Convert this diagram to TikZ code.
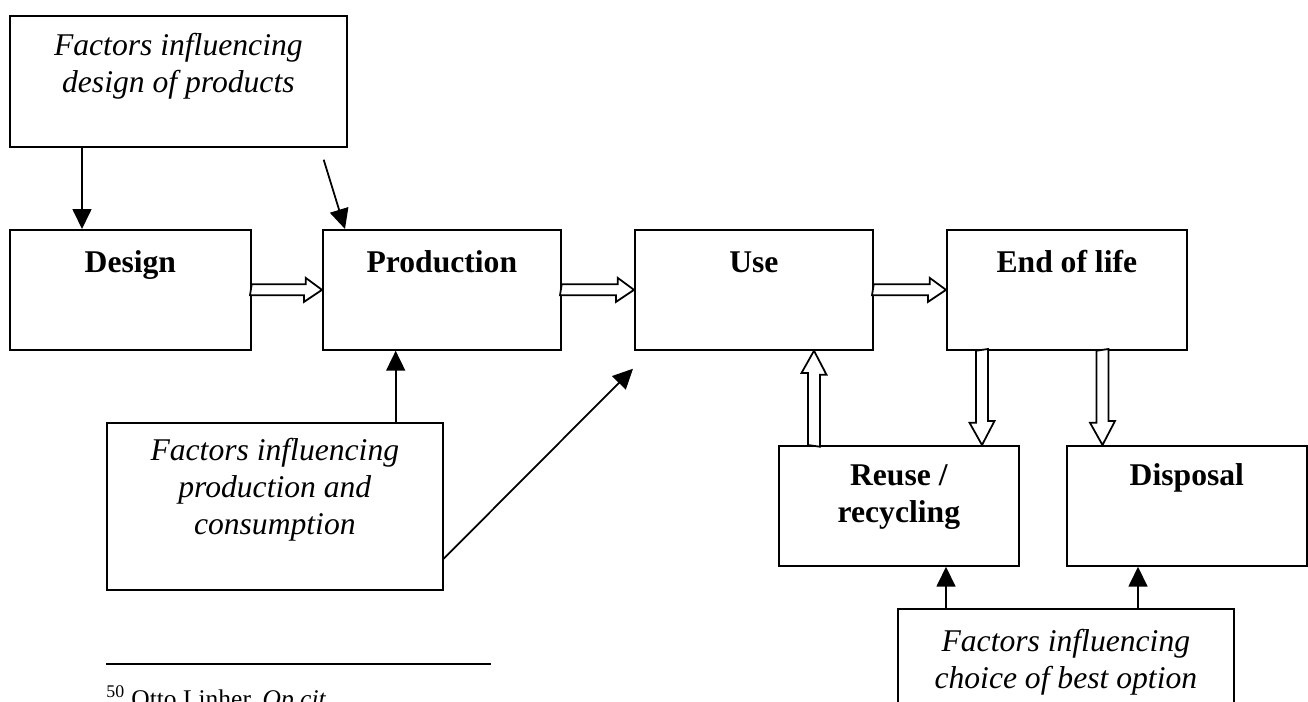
\documentclass[tikz,border=0pt]{standalone}
\usepackage{fontspec}
\setmainfont{Liberation Serif}
\usetikzlibrary{arrows.meta,calc}

% text set at the top of a box: width, height, first baseline, text
\newcommand{\boxtext}[4]{\parbox[c][#2][t]{#1}{\centering\rule{0pt}{#3}#4}}

\begin{document}
\begin{tikzpicture}[x=0.02cm, y=-0.02cm,
    stage/.style={draw, line width=1pt, inner sep=0pt, anchor=north west,
      font=\fontsize{18}{21}\selectfont\bfseries},
    factor/.style={draw, line width=1pt, inner sep=0pt, anchor=north west,
      font=\fontsize{18}{21}\selectfont\itshape},
    arr/.style={line width=1pt, -{Triangle[length=0.4cm, width=0.38cm]}},
    hollow/.style={draw, line width=1pt, fill=white, line join=miter}]
  \useasboundingbox (0,0) rectangle (1308,702);

  % boxes
  \node[factor] (facdesign) at (9,15) {\boxtext{6.74cm}{2.62cm}{0.8cm}{Factors influencing\\design of products}};
  \node[stage] (design) at (9,229) {\boxtext{4.82cm}{2.4cm}{0.86cm}{Design}};
  \node[stage] (prod) at (322,229) {\boxtext{4.76cm}{2.4cm}{0.86cm}{Production}};
  \node[stage] (use) at (634,229) {\boxtext{4.76cm}{2.4cm}{0.86cm}{Use}};
  \node[stage] (eol) at (946,229) {\boxtext{4.8cm}{2.4cm}{0.86cm}{End of life}};
  \node[factor] (facprod) at (106,422) {\boxtext{6.72cm}{3.34cm}{0.76cm}{Factors influencing\\production and\\consumption}};
  \node[stage] (reuse) at (778,445) {\boxtext{4.8cm}{2.4cm}{0.8cm}{Reuse /\\recycling}};
  \node[stage] (disposal) at (1066,445) {\boxtext{4.8cm}{2.4cm}{0.8cm}{Disposal}};
  \node[factor] (faccho) at (897,608) {\boxtext{6.72cm}{3.34cm}{0.86cm}{Factors influencing\\choice of best option}};

  % hollow arrows along the chain
  \draw[hollow] (design.east) ++(0,-5.5) -- ++(54,0) -- ++(0,-6.5) -- (prod.west) -- ++(-18,12) -- ++(0,-6.5) -- ++(-54,0) -- cycle;
  \draw[hollow] (prod.east) ++(0,-5.5) -- ++(56,0) -- ++(0,-6.5) -- (use.west) -- ++(-18,12) -- ++(0,-6.5) -- ++(-56,0) -- cycle;
  \draw[hollow] (use.east) ++(0,-5.5) -- ++(56,0) -- ++(0,-6.5) -- (eol.west) -- ++(-18,12) -- ++(0,-6.5) -- ++(-56,0) -- cycle;

  \path (eol.south west) ++(36,0) coordinate (eolA) ++(120.5,0) coordinate (eolB);
  \path (reuse.north west) ++(36,0) coordinate (reuseA);
  \draw[hollow] (eolA) ++(-6,0) -- ++(0,72) -- ++(-6.5,0) -- (eolA |- reuse.north) -- ++(12.5,-24) -- ++(-6.5,0) -- ++(0,-72) -- cycle;
  \draw[hollow] (eolB) ++(-6,0) -- ++(0,72) -- ++(-6.5,0) -- (eolB |- disposal.north) -- ++(12.5,-24) -- ++(-6.5,0) -- ++(0,-72) -- cycle;
  \draw[hollow] (reuseA) ++(-6,0) -- ++(0,-72) -- ++(-6.5,0) -- (reuseA |- use.south) -- ++(12.5,24) -- ++(-6.5,0) -- ++(0,72) -- cycle;

  % influences
  \draw[arr] (facdesign.south west) ++(73,0) coordinate (fd1) -- (fd1 |- design.north);
  \draw[arr] ($(facdesign.south east)+(-24,12)$) -- ($(prod.north west)+(23,0)$);
  \draw[arr] (facprod.north east) ++(-48,0) coordinate (fp1) -- (fp1 |- prod.south);
  \draw[arr] ($(facprod.south east)+(0,-32)$) -- ($(use.south west)+(-1,18)$);
  \draw[arr] (faccho.north west) ++(49,0) coordinate (fc1) -- (fc1 |- reuse.south);
  \draw[arr] (faccho.north west) ++(241,0) coordinate (fc2) -- (fc2 |- disposal.south);

  % footnote
  \draw[line width=0.8pt] (106,664) -- (491,664);
  \node[anchor=base west, inner sep=0pt, font=\fontsize{14.5}{17}\selectfont] (note) at (106,707) {\textsuperscript{50} Otto Linher, \textit{Op cit.}};
\end{tikzpicture}
\end{document}
